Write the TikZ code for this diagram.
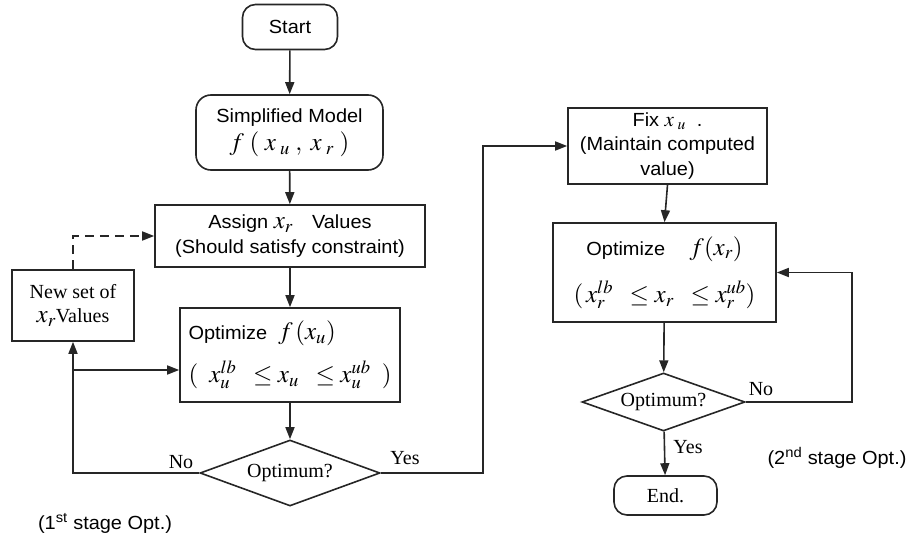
\documentclass[tikz,border=0pt]{standalone}
\usepackage{mathptmx}
\usepackage{fontspec}
\setmainfont[FakeStretch=1.05]{Liberation Sans}
\newfontfamily\labelserif{Liberation Serif}
\usetikzlibrary{shapes.geometric,arrows.meta}

% formulas are set larger than the surrounding text
\newcommand{\bigmath}[1]{{\fontsize{25}{25}\selectfont$#1$}}
\newcommand{\midmath}[1]{{\fontsize{21}{21}\selectfont$#1$}}

\tikzset{
  flow/.style={draw=black!85, line width=1.6pt, align=center, inner sep=0pt,
               font=\fontsize{19}{25}\selectfont},
  procbox/.style={flow, rectangle},
  termbox/.style={flow, rectangle, rounded corners=13pt},
  decision/.style={flow, diamond, shape aspect=2.7, font=\labelserif\fontsize{20}{24}\selectfont},
  arr/.style={draw=black!85, line width=1.6pt, -{Triangle[length=12pt,width=9pt]}},
  tag/.style={inner sep=0pt, font=\labelserif\fontsize{20}{24}\selectfont},
  note/.style={inner sep=0pt, font=\fontsize{19}{24}\selectfont},
}

\begin{document}
\begin{tikzpicture}[x=1pt,y=-1pt]
\path[use as bounding box] (0,0) rectangle (909,537);

% first stage
\node[termbox, minimum width=95pt, minimum height=45pt] (start) at (290,27) {Start};
\node[termbox, rounded corners=15pt, minimum width=187pt, minimum height=75pt] (model) at (289.5,132.5)
  {Simplified Model\\[3pt] \bigmath{f\;(\;x_{\;u}\;,\;x_{\;r}\;)}};
\node[procbox, minimum width=270pt, minimum height=62pt] (assign) at (290,236)
  {Assign \bigmath{x_{r}}\quad Values\\[0pt](Should satisfy constraint)};
\node[procbox, align=left, minimum width=220pt, minimum height=94pt] (opt1) at (290,355)
  {Optimize\ \ \bigmath{f\,(x_{u})}\\[14pt]\bigmath{(\;\;x_{u}^{lb}\;\;\le x_{u}\;\;\le x_{u}^{ub}\;\;)}};
\node[decision, minimum width=180pt, minimum height=66pt] (d1) at (290,473) {Optimum?};
\node[procbox, font=\labelserif\fontsize{20}{26}\selectfont, minimum width=122pt, minimum height=71pt] (newset) at (73,305.5)
  {New set of\\[-2pt]\bigmath{x_{r}}Values};

% second stage
\node[procbox, minimum width=199pt, minimum height=76pt] (fix) at (667.5,146)
  {Fix \midmath{x_{\;u}}\ \ .\\[-1pt](Maintain computed\\value)};
\node[procbox, minimum width=223pt, minimum height=99pt] (opt2) at (664.5,272.5)
  {Optimize\quad\ \bigmath{f(x_{r})}\\[18pt]\bigmath{(\,x_{r}^{lb}\;\;\le x_{r}\;\;\le x_{r}^{ub})}};
\node[decision, minimum width=163pt, minimum height=58pt] (d2) at (663.5,402) {Optimum?};
\node[termbox, font=\labelserif\fontsize{20}{24}\selectfont, minimum width=103pt, minimum height=39pt] (end) at (665.5,495.5) {End.};

% labels
\node[tag] (no1) at (181,462) {No};
\node[tag] (yes1) at (405,458) {Yes};
\node[tag] (no2) at (761,389) {No};
\node[tag] (yes2) at (688,447) {Yes};
\node[note] (stage1) at (105,523) {(1\textsuperscript{st} stage Opt.)};
\node[note] (stage2) at (837,458) {(2\textsuperscript{nd} stage Opt.)};

% corner points of the loops
\coordinate (loopL) at (73,473);
\coordinate (branch) at (73,370);
\coordinate (yesR) at (483,473);
\coordinate (loopR) at (852,402);

% connectors, first stage
\draw[arr] (start) -- (model);
\draw[arr] (model) -- (assign);
\draw[arr] (assign) -- (opt1);
\draw[arr] (opt1) -- (d1);
\draw[arr] (d1.west) -- (loopL) -- (newset.south);
\draw[arr] (branch) -- (branch -| opt1.west);
\draw[arr, dashed, dash pattern=on 9pt off 6pt] (newset.north) |- (assign.west);

% connectors, second stage
\draw[arr] (d1.east) -- (yesR) |- (fix.west);
\draw[arr] (fix.south) -- (opt2.north);
\draw[arr] (opt2) -- (d2);
\draw[arr] (d2.east) -- (loopR) |- (opt2.east);
\draw[arr] (d2) -- (end);
\end{tikzpicture}
\end{document}
